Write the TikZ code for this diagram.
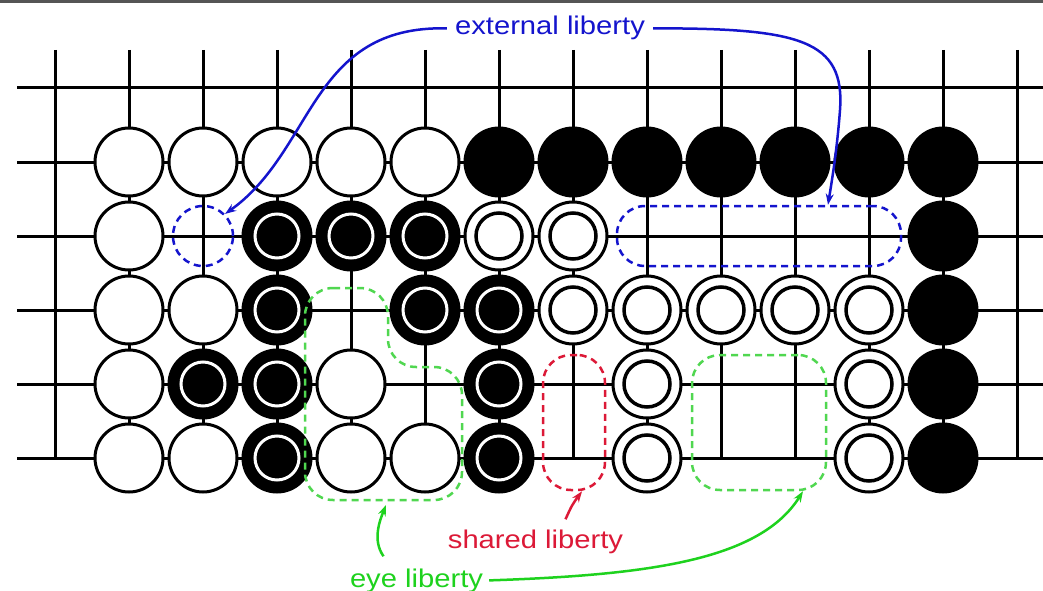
\documentclass[tikz,border=0pt]{standalone}
\usepackage{graphicx}
\usepackage{fontspec}
\setmainfont{Liberation Sans}
\usetikzlibrary{arrows.meta}
\definecolor{extblue}{RGB}{20,20,205}
\definecolor{shred}{RGB}{220,25,55}
\definecolor{eyegreen}{RGB}{30,210,30}
\definecolor{eyedash}{RGB}{80,215,80}
\definecolor{topbar}{RGB}{85,85,85}
\begin{document}
\begin{tikzpicture}[x=1pt,y=-1pt,
  gridline/.style={line width=3pt},
  st-w/.style={circle, draw=black, fill=white, line width=3pt, minimum size=68pt, inner sep=0pt},
  st-b/.style={circle, fill=black, minimum size=71pt, inner sep=0pt},
  st-mb/.style={st-b, path picture={\draw[white,line width=3pt] (path picture bounding box.center) circle (22pt);}},
  st-mw/.style={st-w, path picture={\draw[black,line width=3.5pt] (path picture bounding box.center) circle (23pt);}},
  st-n/.style={inner sep=0pt, minimum size=0pt},
  region/.style={line width=2.5pt, dash pattern=on 7pt off 5pt, inner sep=0pt},
  extreg/.style={region, draw=extblue},
  sharedreg/.style={region, draw=shred},
  eyereg/.style={region, draw=eyedash},
  lab/.style={font=\fontsize{25.6}{30}\selectfont, inner sep=0pt, anchor=base},
  conn/.style={line width=2.5pt, -{Stealth[length=11pt,width=8pt]}},
]
\useasboundingbox (0,0) rectangle (1043,591);
\fill[white] (0,0) rectangle (1043,591);
\fill[topbar] (0,0) rectangle (1043,3);
% grid
\foreach \k in {0,...,13} \draw[gridline] ({55+74*\k},50) -- ({55+74*\k},458);
\foreach \j in {0,...,5} \draw[gridline] (17,{88+74*\j}) -- (1043,{88+74*\j});
% stones
\foreach \row [count=\j] in {
  {w,w,w,w,w,b,b,b,b,b,b,b},
  {w,n,mb,mb,mb,mw,mw,n,n,n,n,b},
  {w,w,mb,n,mb,mb,mw,mw,mw,mw,mw,b},
  {w,mb,mb,w,n,mb,n,mw,n,n,mw,b},
  {w,w,mb,w,w,mb,n,mw,n,n,mw,b}}{
  \foreach \t [count=\k] in \row {
    \node[st-\t] (s-\j-\k) at ({129+74*(\k-1)},{162+74*(\j-1)}) {};
  }
}
% regions
\node[extreg, circle, minimum size=60pt] (extA) at (203,236) {};
\node[extreg, rectangle, rounded corners=28pt, minimum width=284pt, minimum height=60pt] (extB) at (759,236) {};
\node[sharedreg, rectangle, rounded corners=28pt, minimum width=62pt, minimum height=135pt] (shared) at (574,422.5) {};
\node[eyereg, rectangle, rounded corners=28pt, minimum width=134pt, minimum height=135pt] (eyeB) at (759,422.5) {};
\draw[eyereg, rounded corners=28pt] (305,288) -- (388,288) -- (388,367) -- (462,367) -- (462,500) -- (305,500) -- cycle;
\coordinate (eyeA) at (386,505);
% labels
\node[lab, text=extblue] (extlab) at (550,35) {\scalebox{1.14}[1]{external liberty}};
\node[lab, text=shred] (sharedlab) at (535.5,548) {\scalebox{1.14}[1]{shared liberty}};
\node[lab, text=eyegreen] (eyelab) at (416.5,587) {\scalebox{1.14}[1]{eye liberty}};
% connectors
\draw[conn, extblue] ([xshift=-8pt]extlab.west) .. controls (310,25) and (315,150) .. (extA.north east);
\draw[conn, extblue] ([xshift=8pt]extlab.east) .. controls (800,28) and (845,40) .. (840,110) .. controls (837,150) and (832,180) .. ([xshift=69pt]extB.north);
\draw[conn, shred] ([xshift=30pt,yshift=10pt]sharedlab.north) .. controls (572,505) .. ([xshift=8pt]shared.south);
\draw[conn, eyegreen] ([xshift=-33pt,yshift=12pt]eyelab.north) .. controls (372,540) and (380,520) .. (eyeA);
\draw[conn, eyegreen] ([xshift=6pt]eyelab.east) .. controls (650,575) and (760,560) .. ([xshift=44pt]eyeB.south);
\end{tikzpicture}
\end{document}
